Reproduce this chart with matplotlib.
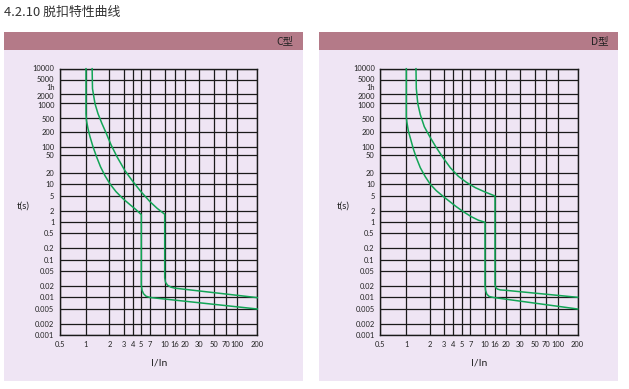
import numpy as np
import matplotlib
matplotlib.use("Agg")
import matplotlib.pyplot as plt
from matplotlib.patches import Rectangle
from matplotlib.transforms import ScaledTranslation

# ---------------- data ----------------
x_ticks = [0.5, 1, 2, 3, 4, 5, 7, 10, 16, 20, 30, 50, 70, 100, 200]
x_labels = ["0.5", "1", "2", "3", "4", "5", "7", "10", "16", "20", "30", "50", "70", "100", "200"]
y_ticks = [10000, 5000, 3600, 2000, 1000, 500, 200, 100, 50, 20, 10, 5, 2, 1,
           0.5, 0.2, 0.1, 0.05, 0.02, 0.01, 0.005, 0.002, 0.001]
y_labels = ["10000", "5000", "1h", "2000", "1000", "500", "200", "100", "50", "20", "10", "5",
            "2", "1", "0.5", "0.2", "0.1", "0.05", "0.02", "0.01", "0.005", "0.002", "0.001"]

# C type curves (I/In, t in s)
c_low_I = [1, 1, 1.015, 1.061, 1.126, 1.231, 1.367, 1.539, 1.76, 2.04, 2.41, 2.92, 3.66, 4.30,
           5, 5, 5.14, 5.44, 6.0, 7, 200]
c_low_t = [10000, 604, 414, 251, 162, 100, 46.5, 27.4, 16.7, 10.2, 6.45, 4.24, 2.94, 2.23,
           1.6, 0.0216, 0.0155, 0.0125, 0.0107, 0.0099, 0.005]
c_up_I = [1.2, 1.213, 1.307, 1.429, 1.61, 1.813, 2.096, 2.47, 3.10, 4.03, 4.96, 7, 8.30,
          10, 10, 10.38, 11.4, 13.45, 16.1, 200]
c_up_t = [10000, 2860, 967, 604, 343, 196, 110, 46.5, 22.2, 11.7, 6.45, 3.53, 2.37,
          1.64, 0.0332, 0.0252, 0.021, 0.0186, 0.0175, 0.0098]

# D type curves (I/In, t in s)
d_low_I = [1, 1, 1.015, 1.061, 1.143, 1.231, 1.347, 1.517, 1.76, 2.04, 2.41, 2.88, 3.54, 4.36,
           5.34, 7.17, 8.5, 10, 10, 10.24, 10.9, 12.2, 14.8, 200]
d_low_t = [10000, 520, 389, 221, 140, 85, 44, 26, 15.7, 10, 6.84, 4.97, 3.64, 2.6,
           1.92, 1.41, 1.14, 1.0, 0.0216, 0.0155, 0.0121, 0.0105, 0.0099, 0.005]
d_up_I = [1.334, 1.347, 1.408, 1.517, 1.709, 2.01, 2.37, 2.84, 3.66, 4.59, 6.0, 7.9, 9.84,
          16, 16, 16.2, 16.8, 17.9, 20.4, 200]
d_up_t = [10000, 2864, 967, 576, 284, 162, 100, 46.5, 26, 16.2, 11.3, 8.2, 6.45,
          5, 0.0223, 0.0186, 0.0166, 0.0157, 0.0153, 0.01]

# ---------------- scale definition (the chart's own non-uniform grid) ----------------
x_grid_vals = [0.5, 1, 2, 3, 4, 5, 7, 10, 16, 20, 30, 50, 70, 100, 200]
x_grid_pos = [0, 26, 49.3, 64, 72.7, 81.3, 90, 104.7, 114.7, 125.3, 139.3, 154.3, 165.7, 177.3, 197.3]
y_grid_vals = [10000, 5000, 2000, 1000, 500, 200, 100, 50, 20, 10, 5, 2, 1, 0.5, 0.2, 0.1,
               0.05, 0.02, 0.01, 0.005, 0.002, 0.001]
y_grid_top = [0, 11.3, 25.6, 34.3, 49, 63.6, 78, 86.6, 104, 115.6, 127.3, 142.3, 153.6, 164.6,
              179.6, 191.3, 202.3, 217.3, 228.6, 240.3, 255.3, 266.3]


def make_funcs(vals, pos):
    lv = np.log10(np.asarray(vals, float))
    p = np.asarray(pos, float)
    order = np.argsort(lv)
    lv, p = lv[order], p[order]

    def fwd(v):
        v = np.asarray(v, float)
        return np.interp(np.log10(np.clip(v, 1e-12, None)), lv, p)

    def inv(q):
        return 10 ** np.interp(np.asarray(q, float), p, lv)
    return fwd, inv


xf = make_funcs(x_grid_vals, x_grid_pos)
yf = make_funcs(y_grid_vals, [266.3 - v for v in y_grid_top])

# ---------------- figure ----------------
W, H = 629, 389
fig = plt.figure(figsize=(W / 100, H / 100), dpi=100)
fig.patch.set_facecolor("white")

BAR = "#B47A88"
BODY = "#EFE5F4"
GREEN = "#12A556"
CJK = ["Noto Sans CJK SC", "DejaVu Sans"]

# vertical nudges (pixels, positive = down) of a few y labels, as in the reference
label_nudge = {"10000": -1.0, "5000": -1.0, "1h": 2.0, "2000": 2.0, "1000": 2.0, "500": 1.0}


def rect(x0, y0, x1, y1, color):
    fig.add_artist(Rectangle((x0 / W, 1 - y1 / H), (x1 - x0) / W, (y1 - y0) / H,
                             transform=fig.transFigure, facecolor=color, edgecolor="none", zorder=0))


fig.text(4 / W, 1 - 12 / H, "4.2.10 脱扣特性曲线", family=CJK, fontsize=9.3,
         color="#333333", ha="left", va="center")

panels = [
    dict(x0=4, x1=303, ax_left=60, name="C型", curves=[(c_low_I, c_low_t), (c_up_I, c_up_t)]),
    dict(x0=319, x1=618, ax_left=380.3, name="D型", curves=[(d_low_I, d_low_t), (d_up_I, d_up_t)]),
]

for pnl in panels:
    rect(pnl["x0"], 31.7, pnl["x1"], 50, BAR)
    rect(pnl["x0"], 50, pnl["x1"], 381, BODY)
    fig.text((pnl["x1"] - 10) / W, 1 - 41 / H, pnl["name"], family=CJK, fontsize=7.5,
             color="#222222", ha="right", va="center")

    ax = fig.add_axes([pnl["ax_left"] / W, (H - 335) / H, 197.3 / W, 266.3 / H])
    ax.set_facecolor("none")
    ax.set_xscale("function", functions=xf)
    ax.set_yscale("function", functions=yf)
    ax.set_xlim(0.5, 200)
    ax.set_ylim(0.001, 10000)
    ax.set_xticks(x_ticks)
    ax.set_xticklabels(x_labels)
    ax.set_yticks(y_ticks)
    ax.set_yticklabels(y_labels)
    ax.minorticks_off()
    ax.tick_params(length=0, labelsize=5.4, colors="#222222", pad=4)
    for lab in ax.get_xticklabels() + ax.get_yticklabels():
        lab.set_family("Lato")
    for lab in ax.get_yticklabels():
        d = label_nudge.get(lab.get_text(), 0.0)
        if d:
            lab.set_transform(lab.get_transform() + ScaledTranslation(0, -d / 100, fig.dpi_scale_trans))
    ax.grid(True, color="#1a1a1a", lw=0.9)
    for val, gl in zip(y_ticks, ax.get_ygridlines()):
        if val == 3600:
            gl.set_visible(False)
    for sp in ax.spines.values():
        sp.set_color("#1a1a1a")
        sp.set_linewidth(1.0)
    for I, t in pnl["curves"]:
        ax.plot(I, t, color=GREEN, lw=1.1, zorder=3, clip_on=False, solid_joinstyle="round")

    fig.text((pnl["ax_left"] - 37) / W, 1 - 206 / H, "t(s)", family="Lato", fontsize=7,
             color="#222222", ha="center", va="center")
    fig.text((pnl["ax_left"] + 99) / W, 1 - 362.7 / H, "I/In", family="Lato", fontsize=7.5,
             color="#222222", ha="center", va="center")

fig.savefig("out.png", dpi=100, facecolor="white")
